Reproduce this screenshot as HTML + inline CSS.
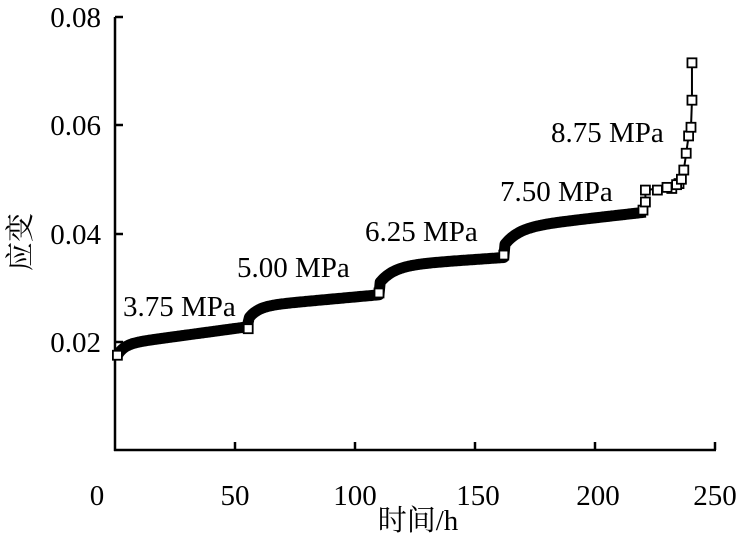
<!DOCTYPE html>
<html><head><meta charset="utf-8"><style>
html,body{margin:0;padding:0;background:#fff;}
svg{display:block;font-family:"Liberation Serif","Noto Serif CJK SC",serif;}
</style></head><body>
<svg id="s" width="737" height="536" viewBox="0 0 737 536" xmlns="http://www.w3.org/2000/svg">
<g stroke="#000" stroke-width="2.5" fill="none">
<line x1="115" y1="17" x2="115" y2="451"/>
<line x1="114" y1="450" x2="716" y2="450"/>
<line x1="235" y1="450" x2="235" y2="442"/>
<line x1="355" y1="450" x2="355" y2="442"/>
<line x1="475" y1="450" x2="475" y2="442"/>
<line x1="595" y1="450" x2="595" y2="442"/>
<line x1="715" y1="450" x2="715" y2="442"/>
<line x1="115" y1="342" x2="123" y2="342"/>
<line x1="115" y1="234" x2="123" y2="234"/>
<line x1="115" y1="125" x2="123" y2="125"/>
<line x1="115" y1="17" x2="123" y2="17"/>
</g>
<g font-size="29" fill="#000">
<text x="97" y="505" text-anchor="middle">0</text>
<text x="235" y="505" text-anchor="middle">50</text>
<text x="355" y="505" text-anchor="middle">100</text>
<text x="478" y="505" text-anchor="middle">150</text>
<text x="598" y="505" text-anchor="middle">200</text>
<text x="715" y="505" text-anchor="middle">250</text>
<text x="101" y="352" text-anchor="end">0.02</text>
<text x="101" y="244" text-anchor="end">0.04</text>
<text x="101" y="135" text-anchor="end">0.06</text>
<text x="101" y="27" text-anchor="end">0.08</text>
<text x="418" y="530" text-anchor="middle">时间/h</text>
<text transform="translate(30,242) rotate(-90)" text-anchor="middle">应变</text>
<text x="123" y="316">3.75 MPa</text>
<text x="237" y="277">5.00 MPa</text>
<text x="365" y="241">6.25 MPa</text>
<text x="500" y="201">7.50 MPa</text>
<text x="551" y="142">8.75 MPa</text>
</g>
<g id="d"></g>
</svg>
<script>
var X=function(t){return 115+2.4*t},Y=function(v){return 450-5415*v};
var segs=[[1,55,0.0175,0.002,3,0.00006],[56,110,0.0245,0.002,4,0.00004],[110.5,162,0.031,0.003,6,0.00003],[162.5,221,0.038,0.003,6,0.00005]];
var d="";
segs.forEach(function(s){
 for(var t=s[0];t<=s[1];t+=0.5){
  var v=s[2]+s[3]*(1-Math.exp(-(t-s[0])/s[4]))+s[5]*(t-s[0]);
  d+=(t==s[0]&&s===segs[0]?"M":"L")+X(t).toFixed(1)+" "+Y(v).toFixed(1)+" ";
 }
});
var tail=[[220,0.0443],[221,0.0458],[221,0.048],[230,0.0485],[234,0.049],[236,0.050],[237,0.0517],[238,0.0548],[239,0.058],[240,0.0596],[240.4,0.0646],[240.4,0.0715]];
var p="";tail.forEach(function(q,i){p+=(i?"L":"M")+X(q[0])+" "+Y(q[1])+" ";});
var g=document.getElementById("d"),ns="http://www.w3.org/2000/svg";
function el(n,a){var e=document.createElementNS(ns,n);for(var k in a)e.setAttribute(k,a[k]);g.appendChild(e);}
el("path",{d:d,stroke:"#000","stroke-width":11,fill:"none","stroke-linejoin":"round"});
el("path",{d:p,stroke:"#000","stroke-width":2,fill:"none"});
var pts=[[1,0.0175],[55.5,0.0224],[110,0.0290],[162,0.0360],[226,0.0480],[232,0.0483],[235,0.0492]].concat(tail);
pts.forEach(function(q){el("rect",{x:X(q[0])-4.5,y:Y(q[1])-4.5,width:9,height:9,fill:"#fff",stroke:"#000","stroke-width":1.8});});
</script>
</body></html>
